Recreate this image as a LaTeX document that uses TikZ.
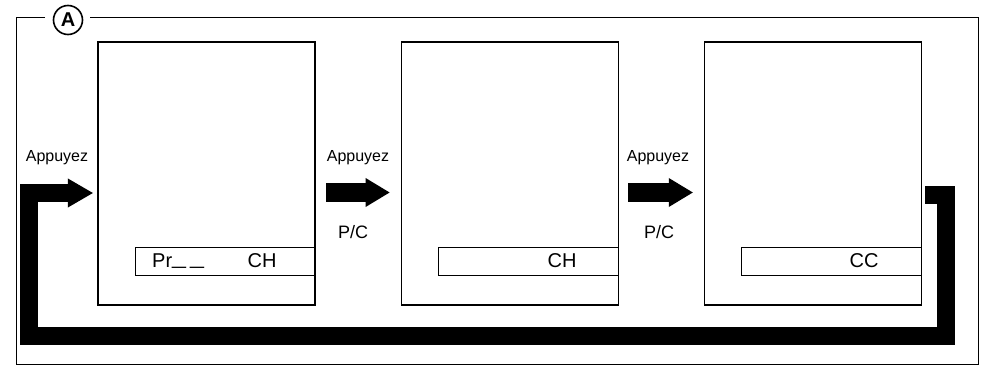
\documentclass[tikz,border=0pt]{standalone}
\usepackage{fontspec}
\setmainfont{Liberation Sans}
\usetikzlibrary{positioning,arrows.meta,calc}
\tikzset{
  screen/.style={draw, line width=1.2pt, minimum width=217pt, minimum height=263pt, inner sep=0pt},
  bar/.style={draw, line width=1pt, minimum width=180pt, minimum height=28pt, inner sep=0pt},
  lcd/.style={font=\fontsize{20}{24}\selectfont, inner sep=0pt, anchor=base},
  press/.style={font=\fontsize{16}{19}\selectfont, inner sep=0pt, anchor=base},
  key/.style={font=\fontsize{18}{22}\selectfont, inner sep=0pt, anchor=base},
  tag/.style={circle, draw, line width=1.6pt, minimum size=29pt, inner sep=0pt,
    font=\fontsize{20}{24}\selectfont\bfseries},
  frame/.style={line width=1pt},
  bigarrow/.style={line width=19pt, -{Triangle[length=24pt,width=29pt,line width=0pt]}},
  loopline/.style={line width=18pt, line join=miter, -{Triangle[length=25pt,width=29pt,line width=0pt]}},
}

\begin{document}
\begin{tikzpicture}[x=1pt, y=-1pt]
\useasboundingbox (0,0) rectangle (984,366);

% outer frame with its tag
\coordinate (fL) at (45,17.5);
\coordinate (fR) at (90,17.5);
\draw[frame] (fL) -- (16,17.5) |- (978,364.5) |- (fR);
\node[tag] (tagA) at (68,20) {A};

% the three displays
\node[screen] (scrA) at (206.5,173.5) {};
\node[screen, right=85pt of scrA] (scrB) {};
\node[screen, right=85pt of scrB] (scrC) {};

\node[bar, anchor=south east] (barA) at ([yshift=30pt]scrA.south east) {};
\node[bar, anchor=south east] (barB) at ([yshift=30pt]scrB.south east) {};
\node[bar, anchor=south east] (barC) at ([yshift=30pt]scrC.south east) {};

\node[lcd, anchor=base west] (prA) at (152,267)
  {Pr\raisebox{3pt}{\scalebox{1.25}[1]{\_}\kern4pt\scalebox{1.25}[1]{\_}}};
\node[lcd] (chA) at (262,267) {CH};
\node[lcd] (chB) at (562,267) {CH};
\node[lcd] (ccC) at (864,267) {CC};

% labels
\node[press] (pushA) at (57,162) {Appuyez};
\node[press] (pushB) at (358,162) {Appuyez};
\node[press] (pushC) at (658,162) {Appuyez};
\node[key] (pcB) at (353,238) {P/C};
\node[key] (pcC) at (659,238) {P/C};

% arrows
\coordinate (inB) at (326,192.5);
\coordinate (inC) at (628,192.5);
\draw[bigarrow, shorten >=11pt] (inB) -- (inB -| scrB.west);
\draw[bigarrow, shorten >=11pt] (inC) -- (inC -| scrC.west);

\coordinate (back) at (925,194.5);
\coordinate (turn) at (29,193);
\draw[loopline, shorten >=4.5pt] (back) -- (946,194.5) -- (946,336) -- (29,336)
  -- (turn) -- (turn -| scrA.west);
\end{tikzpicture}
\end{document}
